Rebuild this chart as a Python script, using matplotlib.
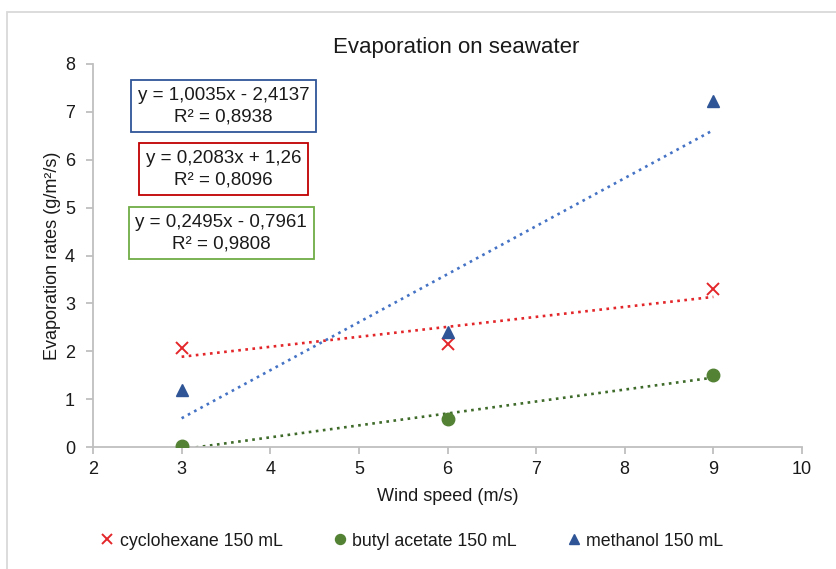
import numpy as np
import matplotlib
matplotlib.use("Agg")
import matplotlib.pyplot as plt
from matplotlib.patches import Rectangle

plt.rcParams['font.family'] = ['Liberation Sans', 'DejaVu Sans']

# ---- data ----
wind_speed = [3, 6, 9]
cyclohexane = [2.06, 2.16, 3.31]
butyl_acetate = [0.013, 0.58, 1.51]
methanol = [1.20, 2.41, 7.22]

series_names = ["cyclohexane 150 mL", "butyl acetate 150 mL", "methanol 150 mL"]
equations = [
    "y = 1,0035x - 2,4137\nR² = 0,8938",
    "y = 0,2083x + 1,26\nR² = 0,8096",
    "y = 0,2495x - 0,7961\nR² = 0,9808",
]
x_ticks = [2, 3, 4, 5, 6, 7, 8, 9, 10]
y_ticks = [0, 1, 2, 3, 4, 5, 6, 7, 8]

# ---- styles ----
red = "#E3262A"
red_line = "#E3262A"
green = "#548235"
green_line = "#3F6B2A"
blue = "#2F5597"
blue_line = "#4472C4"
axis_gray = "#BFBFBF"
text_col = "#1A1A1A"

fig = plt.figure(figsize=(8.36, 5.69), dpi=100)
ax = fig.add_axes([93/836, 1-447/569, 709/836, 383/569])

x = np.array(wind_speed, dtype=float)
for ys, lcol in [(cyclohexane, red_line), (butyl_acetate, green_line), (methanol, blue_line)]:
    coef = np.polyfit(x, ys, 1)
    xl = np.array([x.min(), x.max()])
    ax.plot(xl, np.polyval(coef, xl), linestyle=(0, (1, 1.7)), color=lcol, lw=1.9, zorder=2)

h1, = ax.plot(wind_speed, cyclohexane, linestyle="none", marker="x", color=red, ms=8.5, mew=1.4, zorder=3)
h2, = ax.plot(wind_speed, butyl_acetate, linestyle="none", marker="o", color=green, ms=9, zorder=3)
h3, = ax.plot(wind_speed, methanol, linestyle="none", marker="^", color=blue, ms=9, zorder=3)

ax.set_xlim(2, 10)
ax.set_ylim(0, 8)
ax.set_xticks(x_ticks)
ax.set_yticks(y_ticks)
for s in ["top", "right"]:
    ax.spines[s].set_visible(False)
for s in ["left", "bottom"]:
    ax.spines[s].set_color(axis_gray)
    ax.spines[s].set_linewidth(1.3)
ax.tick_params(axis="both", colors=axis_gray, labelcolor=text_col, labelsize=13,
               length=5, width=1.3, direction="out")
ax.tick_params(axis="x", pad=5)
ax.tick_params(axis="y", pad=8)

ax.set_xlabel("Wind speed (m/s)", fontsize=13, color=text_col, labelpad=7)
ax.set_ylabel("Evaporation rates (g/m²/s)", fontsize=13, color=text_col, labelpad=3)
fig.text(456/836, 1-47/569, "Evaporation on seawater", ha="center", va="center",
         fontsize=16, color=text_col)

box_specs = [(0.184, 0.890, "#2F5597"), (0.184, 0.726, "#C00000"), (0.181, 0.559, "#70AD47")]
for (bx, by, ec), txt in zip(box_specs, equations):
    ax.text(bx, by, txt, transform=ax.transAxes, ha="center", va="center",
            fontsize=13.5, color=text_col, linespacing=1.35,
            bbox=dict(boxstyle="square,pad=0.35", fc="white", ec=ec, lw=1.3))

fig.legend([h1, h2, h3], series_names, loc="center", bbox_to_anchor=(410/836, 28/569),
           ncol=3, frameon=False, fontsize=12.8, handletextpad=0.1, columnspacing=2.6,
           handlelength=1.2, markerscale=0.8, labelcolor=text_col)

fig.patches.append(Rectangle((7/836, -0.1), 1.2, 1.1 - 12/569, transform=fig.transFigure,
                             fill=False, ec="#D9D9D9", lw=1.3))

fig.savefig("out.png", dpi=100)
